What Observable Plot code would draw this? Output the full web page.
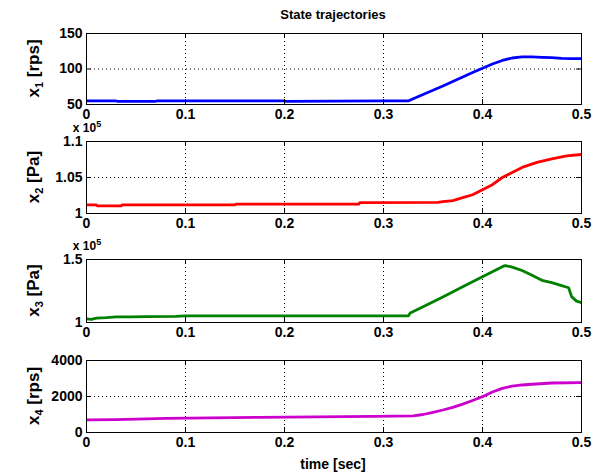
<!DOCTYPE html>
<html><head><meta charset="utf-8">
<script src="https://cdn.jsdelivr.net/npm/d3@7"></script>
<script src="https://cdn.jsdelivr.net/npm/@observablehq/plot@0.6"></script>
<style>
body{margin:0;background:#fff}
#wrap{position:relative;width:612px;height:476px;background:#fff;overflow:hidden;font-family:"Liberation Sans",Arial,sans-serif;font-weight:bold;color:#000}
#wrap svg{position:absolute;left:0;overflow:visible}
.t{position:absolute;text-align:center;white-space:nowrap}
</style></head><body><div id="wrap">
<div class="t" id="title" style="left:133px;width:400px;top:7px;font-size:13px">State trajectories</div>
<div class="t" id="xlab" style="left:133px;width:400px;top:456px;font-size:14px">time [sec]</div>
</div>
<script>
const FONT = '"Liberation Sans", Arial, sans-serif';
const xTicks = [0, 0.1, 0.2, 0.3, 0.4, 0.5];

// x1 [rps]
const t1 = [0, 0.03, 0.031, 0.07, 0.071, 0.2, 0.201, 0.3, 0.325, 0.33, 0.34, 0.35, 0.36, 0.37, 0.38, 0.39, 0.40, 0.41, 0.42, 0.43, 0.44, 0.45, 0.46, 0.47, 0.48, 0.49, 0.5];
const x1 = [55, 55, 54.5, 54.5, 55, 55, 54.5, 55, 55, 58, 64, 70, 76, 82.5, 88.7, 95, 101, 107, 112, 115.5, 117, 117, 116.5, 116, 115, 114.5, 114.5];
const y1Ticks = [50, 100, 150];

// x2 [Pa] (x 10^5)
const t2 = [0, 0.01, 0.011, 0.035, 0.036, 0.15, 0.151, 0.275, 0.276, 0.355, 0.36, 0.37, 0.38, 0.39, 0.40, 0.41, 0.42, 0.43, 0.44, 0.455, 0.47, 0.485, 0.5];
const x2 = [1.012, 1.012, 1.0105, 1.0105, 1.012, 1.012, 1.013, 1.013, 1.015, 1.0155, 1.0165, 1.018, 1.022, 1.026, 1.033, 1.040, 1.050, 1.057, 1.064, 1.071, 1.076, 1.080, 1.082];
const y2Ticks = [1, 1.05, 1.1];

// x3 [Pa] (x 10^5)
const t3 = [0, 0.005, 0.01, 0.02, 0.03, 0.045, 0.06, 0.09, 0.1, 0.2, 0.3, 0.325, 0.327, 0.34, 0.36, 0.38, 0.40, 0.41, 0.42, 0.423, 0.43, 0.44, 0.45, 0.46, 0.47, 0.48, 0.487, 0.49, 0.495, 0.5];
const x3 = [1.028, 1.025, 1.035, 1.038, 1.045, 1.045, 1.046, 1.048, 1.052, 1.052, 1.052, 1.052, 1.075, 1.125, 1.203, 1.283, 1.363, 1.403, 1.443, 1.452, 1.44, 1.413, 1.375, 1.335, 1.316, 1.292, 1.276, 1.205, 1.17, 1.158];
const y3Ticks = [1, 1.5];

// x4 [rps]
const t4 = [0, 0.03, 0.08, 0.175, 0.29, 0.33, 0.34, 0.35, 0.36, 0.37, 0.38, 0.39, 0.40, 0.41, 0.42, 0.43, 0.44, 0.45, 0.47, 0.5];
const x4 = [700, 720, 780, 840, 900, 920, 1000, 1120, 1250, 1400, 1580, 1780, 1990, 2250, 2450, 2580, 2640, 2680, 2750, 2770];
const y4Ticks = [0, 2000, 4000];

const wrap = document.getElementById("wrap");

function panel({top, h, t, v, yTicks, color, sub, unit, exp}) {
  const W = 612, mt = 20, mb = 26, ml = 86, mr = 31;
  const iw = W - ml - mr;
  const data = t.map((d, i) => ({t: d, v: v[i]}));
  const yDomain = [yTicks[0], yTicks[yTicks.length - 1]];
  const svg = Plot.plot({
    width: W, height: h + mt + mb,
    marginTop: mt, marginBottom: mb, marginLeft: ml, marginRight: mr,
    style: {fontFamily: FONT, fontSize: "14px", fontWeight: "bold", color: "#000", background: "transparent", overflow: "visible"},
    x: {domain: [0, 0.5]},
    y: {domain: yDomain},
    marks: [
      Plot.gridX(xTicks.slice(1, -1), {stroke: "#000", strokeOpacity: 1, strokeWidth: 1, strokeDasharray: "1,3"}),
      Plot.gridY(yTicks.slice(1, -1), {stroke: "#000", strokeOpacity: 1, strokeWidth: 1, strokeDasharray: "1,3"}),
      Plot.line(data, {x: "t", y: "v", stroke: color, strokeWidth: 2.8, clip: true}),
      Plot.ruleX(xTicks, {stroke: "#000", insetTop: h - 5}),
      Plot.ruleX(xTicks, {stroke: "#000", insetBottom: h - 5}),
      Plot.ruleY(yTicks, {stroke: "#000", insetRight: iw - 5}),
      Plot.ruleY(yTicks, {stroke: "#000", insetLeft: iw - 5}),
      Plot.frame({stroke: "#000"}),
      Plot.axisX(xTicks, {tickSize: 0, tickPadding: 5, tickFormat: d => String(d), label: null}),
      Plot.axisY(yTicks, {tickSize: 0, tickPadding: 4, tickFormat: d => String(d), label: null})
    ]
  });
  svg.style.top = (top - mt) + "px";
  const s = d3.select(svg);
  const lab = s.append("text")
    .attr("transform", `translate(39,${mt + h / 2}) rotate(-90)`)
    .attr("text-anchor", "middle")
    .attr("fill", "#000")
    .style("font-size", "17px").style("font-weight", "bold");
  lab.append("tspan").text("x");
  lab.append("tspan").attr("dy", 4).style("font-size", "11px").text(sub);
  lab.append("tspan").attr("dy", -4).text(" [" + unit + "]");
  if (exp) {
    const e = s.append("text").attr("x", ml + 1).attr("y", mt - 9).attr("fill", "#000")
      .style("font-size", "12px").style("font-weight", "bold");
    e.append("tspan").text("x 10");
    e.append("tspan").attr("dy", -5).style("font-size", "9px").text("5");
  }
  wrap.appendChild(svg);
}

panel({top: 33, h: 71, t: t1, v: x1, yTicks: y1Ticks, color: "#0000ff", sub: "1", unit: "rps"});
panel({top: 141, h: 72, t: t2, v: x2, yTicks: y2Ticks, color: "#ff0000", sub: "2", unit: "Pa", exp: true});
panel({top: 259, h: 63, t: t3, v: x3, yTicks: y3Ticks, color: "#008000", sub: "3", unit: "Pa", exp: true});
panel({top: 360, h: 72, t: t4, v: x4, yTicks: y4Ticks, color: "#cc00cc", sub: "4", unit: "rps"});
</script>
</body></html>
